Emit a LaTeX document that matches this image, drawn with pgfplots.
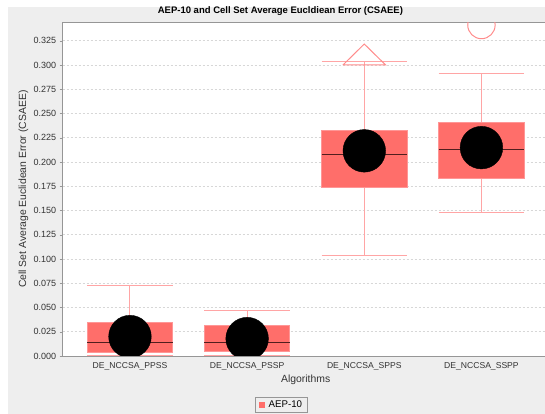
\documentclass[border=0pt]{standalone}
\usepackage{pgfplots}
\pgfplotsset{compat=1.18}
\usepgfplotslibrary{statistics}
\usepackage{fontspec}
\setmainfont{Liberation Sans}
\definecolor{boxred}{RGB}{255,110,106}
\definecolor{boxedge}{RGB}{255,150,150}
\definecolor{whisk}{RGB}{255,165,165}
\definecolor{capcol}{RGB}{255,140,140}
\definecolor{meddark}{RGB}{80,30,30}
\definecolor{axisgray}{RGB}{150,150,150}
\definecolor{gridgray}{RGB}{215,215,215}
\definecolor{bggray}{RGB}{238,238,238}
\begin{document}
\begin{tikzpicture}[x=1pt,y=1pt]
\fill[bggray] (8,0) rectangle (545,407);
\begin{axis}[
  at={(62.6pt,58pt)}, anchor=south west,
  width=486.2pt, height=333.5pt, scale only axis,
  xmin=-0.575, xmax=3.575, ymin=0, ymax=0.3438,
  axis background/.style={fill=white},
  axis line style={draw=axisgray, line width=0.8pt},
  ytick={0,0.025,0.05,0.075,0.1,0.125,0.15,0.175,0.2,0.225,0.25,0.275,0.3,0.325},
  /pgf/number format/fixed, /pgf/number format/fixed zerofill, /pgf/number format/precision=3, /pgf/number format/assume math mode=true,
  yticklabel style={font=\fontsize{9}{10}\selectfont, text=black!80},
  tick align=outside, major tick length=3pt,
  ytick style={draw=axisgray}, ytick pos=left,
  xtick={0,1,2,3},
  xticklabels={DE\_NCCSA\_PPSS,DE\_NCCSA\_PSSP,DE\_NCCSA\_SPPS,DE\_NCCSA\_SSPP},
  xtick style={draw=none},
  xticklabel style={font=\fontsize{8.6}{10}\selectfont, text=black!80},
  ymajorgrids, grid style={draw=gridgray, dash pattern=on 2pt off 2pt, line width=0.6pt},
  clip marker paths=true,
  every axis title shift=0pt,
  title={AEP-10 and Cell Set Average Eucldiean Error (CSAEE)},
  title style={at={(axis description cs:0.448,1.0345)}, anchor=center, font=\bfseries\fontsize{9.5}{11}\selectfont},
  xlabel={Algorithms},
  xlabel style={at={(axis description cs:0.5,-0.072)}, anchor=center, font=\fontsize{10.4}{12}\selectfont, text=black!80},
  ylabel={Cell Set Average Euclidean Error (CSAEE)},
  ylabel style={at={(axis description cs:-0.0804,0.5)}, anchor=center, font=\fontsize{10.4}{12}\selectfont, text=black!80},
  boxplot/draw direction=y,
  boxplot/every box/.style={fill=boxred, draw=boxedge, line width=0.8pt},
  boxplot/every whisker/.style={draw=whisk, line width=1pt},
  boxplot/every median/.style={draw=meddark, line width=1pt},
  legend style={at={(axis description cs:0.45,-0.147)}, anchor=center, draw=axisgray, fill=bggray, font=\fontsize{9.7}{11}\selectfont, inner xsep=3pt, inner ysep=1.5pt, row sep=0pt},
  legend cell align=left,
]
\addplot[boxplot prepared={lower whisker=0.0007, lower quartile=0.0038, median=0.0137, upper quartile=0.0351, upper whisker=0.0729, draw position=0, box extend=0.73, whisker extend=0.73}, draw=capcol, forget plot] coordinates {};
\addplot[boxplot prepared={lower whisker=0.0007, lower quartile=0.0045, median=0.0141, upper quartile=0.0313, upper whisker=0.0471, draw position=1, box extend=0.73, whisker extend=0.73}, draw=capcol, forget plot] coordinates {};
\addplot[boxplot prepared={lower whisker=0.1038, lower quartile=0.1742, median=0.2079, upper quartile=0.2330, upper whisker=0.3031, draw position=2, box extend=0.73, whisker extend=0.73}, draw=capcol, forget plot] coordinates {};
\addplot[boxplot prepared={lower whisker=0.1477, lower quartile=0.1828, median=0.2124, upper quartile=0.2405, upper whisker=0.2911, draw position=3, box extend=0.73, whisker extend=0.73}, draw=capcol, forget plot] coordinates {};
% far-out marker (triangle)
\addplot[draw=capcol, line width=1pt, forget plot] coordinates {(1.818,0.300) (2.182,0.300) (2,0.3216) (1.818,0.300)};
% outlier circle
\addplot[only marks, mark=o, mark size=13.7pt, mark options={draw=capcol, line width=1pt}, forget plot] coordinates {(3,0.3412)};
% mean markers
\addplot[only marks, mark=*, mark size=21.3pt, mark options={fill=black, draw=black}, forget plot] coordinates {(0,0.0200) (1,0.0179) (2,0.2115) (3,0.2148)};
\addlegendimage{legend image code/.code={\fill[boxred, draw=none] (0pt,-3pt) rectangle (6pt,3pt); \path[draw=none, fill=none] (0pt,0pt) -- (8pt,0pt);}}
\addlegendentry{AEP-10}
\end{axis}
\pgfresetboundingbox
\path[use as bounding box] (0,0) rectangle (545,414);
\end{tikzpicture}
\end{document}
